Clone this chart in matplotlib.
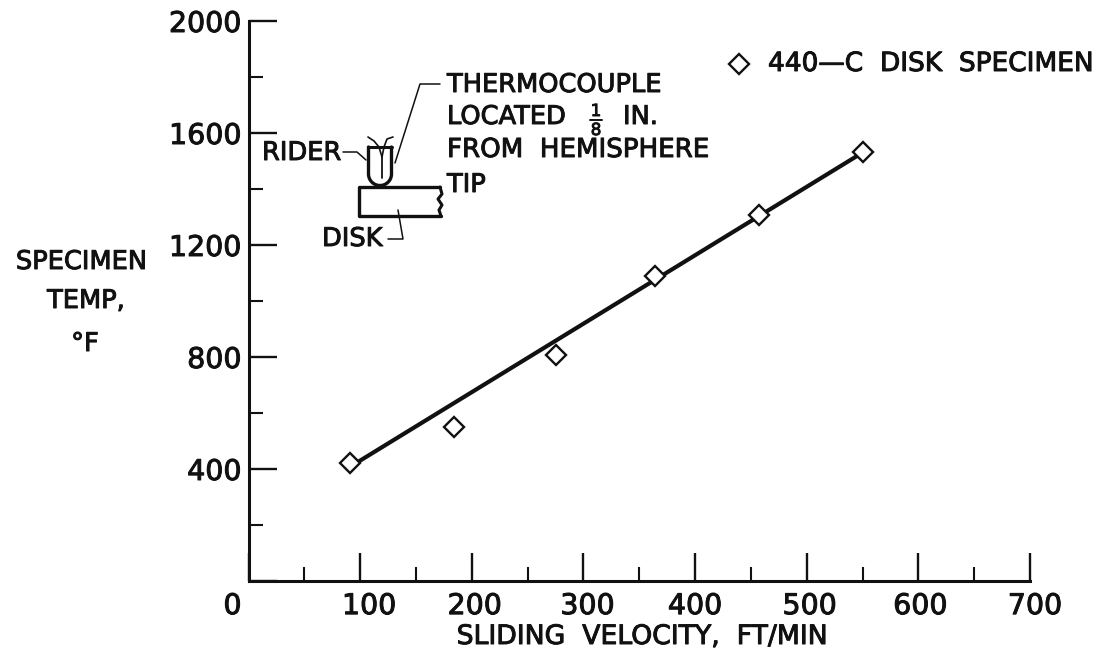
#!/usr/bin/env python
""" Specimen temperature vs sliding velocity, with the rider/disk sketch """
import matplotlib
matplotlib.use('agg')
import matplotlib.pyplot as plt
import matplotlib.patheffects as pe
from matplotlib.transforms import Affine2D, ScaledTranslation
import numpy as np

W, H = 1099, 656

velocity = [91, 184, 275, 364, 457, 550]
temperature = [421, 550, 807, 1089, 1307, 1532]
fit_velocity = [91, 550]
fit_temperature = [408, 1530]

x_major = [0, 100, 200, 300, 400, 500, 600, 700]
x_minor = [50, 150, 250, 350, 450, 550, 650]
y_major = [0, 400, 800, 1200, 1600, 2000]
y_minor = [200, 600, 1000, 1400, 1800]

plt.rcParams['font.family'] = 'DejaVu Sans'
FS = 18.5
TICK_FS = 20.5
INK = '#111111'
HEAVY = [pe.withStroke(linewidth=0.7, foreground=INK)]

fig = plt.figure(figsize=(W / 100, H / 100), dpi=100)
ax = fig.add_axes([248.5 / W, 1 - 581 / H, (1030 - 248.5) / W, (581 - 21) / H])
ax.set_xlim(0, 700)
ax.set_ylim(0, 2000)
for side in ['top', 'right']:
    ax.spines[side].set_visible(False)
for side in ['left', 'bottom']:
    ax.spines[side].set_linewidth(2.2)
    ax.spines[side].set_color(INK)

ax.set_xticks(x_major)
ax.set_xticks(x_minor, minor=True)
ax.set_yticks(y_major)
ax.set_yticks(y_minor, minor=True)
ax.tick_params(which='major', direction='in', length=20, width=1.7, color=INK,
               labelsize=TICK_FS, labelcolor=INK)
ax.tick_params(which='minor', direction='in', length=10, width=1.5, color=INK)
ax.tick_params(axis='x', which='major', pad=8)
ax.tick_params(axis='y', which='major', pad=5)
ax.set_yticklabels(['' if v == 0 else str(v) for v in y_major])

# the origin label sits left of the axis, the others a little right of their ticks
offsets = [-16, 9, 3, 4, 0, 3, 2, 5]
for lab, dx in zip(ax.get_xticklabels(), offsets):
    lab.set_transform(lab.get_transform() + ScaledTranslation(dx / 100, 0, fig.dpi_scale_trans))
    lab.set_path_effects(HEAVY)
for lab in ax.get_yticklabels():
    lab.set_path_effects(HEAVY)

ax.plot(fit_velocity, fit_temperature, color=INK, lw=3, zorder=2)
ax.plot(velocity, temperature, ls='none', marker='D', ms=10, mfc='white', mec=INK, mew=1.7, zorder=3)

# overlay in pixel coordinates for the sketch and the loose text
px = Affine2D().scale(1 / W, -1 / H).translate(0, 1) + fig.transFigure


def label(x, y, s, ha='left', size=FS):
    fig.text(x, y, s, transform=px, ha=ha, va='center', fontsize=size, color=INK,
             path_effects=HEAVY)


def stroke(xs, ys, lw=1.2, ls='-'):
    fig.add_artist(plt.Line2D(xs, ys, transform=px, color=INK, lw=lw, ls=ls,
                              solid_capstyle='round', solid_joinstyle='round'))


label(81.5, 262, 'SPECIMEN', ha='center')
label(86, 301, 'TEMP,', ha='center')
label(85, 344, '°F', ha='center')
label(642, 637, 'SLIDING  VELOCITY,  FT/MIN', ha='center', size=19.2)

label(447, 85, 'THERMOCOUPLE')
label(447, 117, 'LOCATED')
label(623, 117, 'IN.')
label(447, 150, 'FROM  HEMISPHERE', size=18.8)
label(447, 185, 'TIP')
label(262, 153, 'RIDER')
label(322, 239, 'DISK')
label(768, 64, '440—C  DISK  SPECIMEN', size=19)

# 1/8 fraction
label(596, 111, '1', ha='center', size=12)
label(596, 130, '8', ha='center', size=12)
stroke([590, 602], [120, 120], lw=1.4)

# legend marker
fig.add_artist(plt.Line2D([739], [64], transform=px, marker='D', ms=10, mfc='white',
                          mec=INK, mew=1.7, ls='none'))

# rider: open-topped U with a rounded tip
t = np.linspace(np.pi, 0, 30)
rider_x = np.concatenate([[368.5], 380 + 11.5 * np.cos(t), [391.5]])
rider_y = np.concatenate([[147], 174 + 11.5 * np.sin(t), [147]])
stroke(rider_x, rider_y, lw=2.4)
stroke([368, 392], [147, 147], lw=2.2)

# disk with a broken right edge
stroke([440, 359, 359, 441], [187, 187, 216, 216], lw=2.4)
stroke([440, 442, 438, 442, 439, 441], [187, 194, 199, 205, 210, 216], lw=2.2)

# thermocouple wires
stroke([382, 382], [178, 157], lw=1.3)
stroke([368, 374, 379, 382], [137, 141, 147, 157], lw=1.2)
stroke([393, 387, 384, 382], [137, 139, 147, 157], lw=1.2)

# leaders
stroke([440, 420, 395], [84, 84, 163], lw=1.1)
stroke([343, 357, 366], [152, 152, 160], lw=1.1)
stroke([388, 403, 398], [239, 239, 210], lw=1.1)

plt.savefig('out.png', dpi=100)
